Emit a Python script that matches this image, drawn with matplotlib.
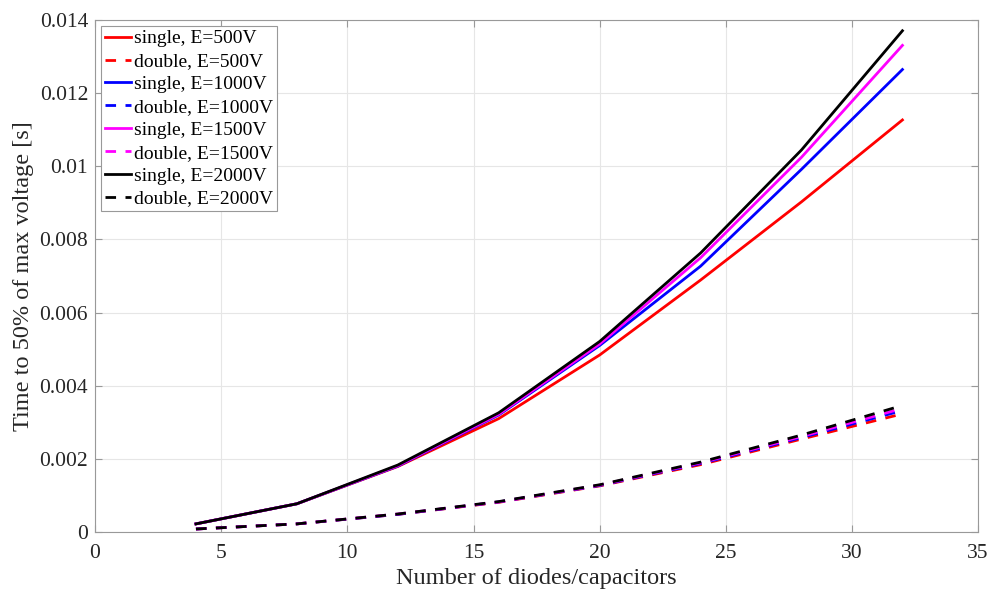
import matplotlib.pyplot as plt
import numpy as np

plt.rcParams['font.family'] = ['Liberation Serif', 'DejaVu Serif']

# Number of diodes/capacitors
n_stages = [4, 8, 12, 16, 20, 24, 28, 32]

# Time to 50% of max voltage [s], single configuration
single_500 = [0.00022, 0.00077, 0.00179, 0.00310, 0.00484, 0.00689, 0.00903, 0.01127]
single_1000 = [0.00022, 0.00077, 0.00180, 0.00320, 0.00510, 0.00727, 0.00992, 0.01265]
single_1500 = [0.00022, 0.00077, 0.00181, 0.00322, 0.00514, 0.00750, 0.01025, 0.01331]
single_2000 = [0.00022, 0.00077, 0.00183, 0.00326, 0.00521, 0.00763, 0.01045, 0.01371]

# double configuration
double_500 = [0.00008, 0.00022, 0.00048, 0.00081, 0.00126, 0.00184, 0.00254, 0.00323]
double_1000 = [0.00008, 0.00022, 0.00048, 0.00082, 0.00127, 0.00187, 0.00258, 0.00332]
double_1500 = [0.00008, 0.00022, 0.00049, 0.00082, 0.00128, 0.00189, 0.00261, 0.00338]
double_2000 = [0.00008, 0.00022, 0.00049, 0.00083, 0.00129, 0.00191, 0.00265, 0.00346]

voltages = [500, 1000, 1500, 2000]
colors = ['#ff0000', '#0000ff', '#ff00ff', '#000000']
singles = [single_500, single_1000, single_1500, single_2000]
doubles = [double_500, double_1000, double_1500, double_2000]

fig = plt.figure(figsize=(9.9, 5.93), dpi=100)
ax = fig.add_axes([0.096, 0.103, 0.892, 0.863])

for v, c, s, d in zip(voltages, colors, singles, doubles):
    ax.plot(n_stages, s, color=c, linewidth=2, label="single, E=" + str(v) + "V")
    ax.plot(n_stages, d, color=c, linewidth=2, dashes=(3.8, 3.4),
            label="double, E=" + str(v) + "V")

ax.set_xlim(0, 35)
ax.set_ylim(0, 0.014)
ax.set_xticks(np.arange(0, 36, 5))
ax.set_yticks(np.arange(0, 0.0141, 0.002))
ax.set_yticklabels(["0", "0.002", "0.004", "0.006", "0.008", "0.01", "0.012", "0.014"])

ax.grid(True, color='#e6e6e6', linewidth=0.8)
ax.set_axisbelow(True)
for sp in ax.spines.values():
    sp.set_color('#999999')
ax.tick_params(direction='in', top=True, right=True, length=5, color='#999999',
               labelsize=15.5, labelcolor='#262626')
ax.tick_params(axis='x', pad=9)
ax.tick_params(axis='y', pad=5)

ax.set_xlabel("Number of diodes/capacitors", fontsize=17.5, color='#262626', labelpad=3)
ax.set_ylabel("Time to 50% of max voltage [s]", fontsize=17.5, color='#262626', labelpad=4)

leg = ax.legend(loc='upper left', fontsize=14, handlelength=1.35, handletextpad=0.15,
                labelspacing=0.27, borderpad=0.2, fancybox=False, framealpha=1,
                borderaxespad=0.3)
leg.get_frame().set_edgecolor('#999999')
leg.get_frame().set_linewidth(0.8)

fig.savefig("out.png", dpi=100)
